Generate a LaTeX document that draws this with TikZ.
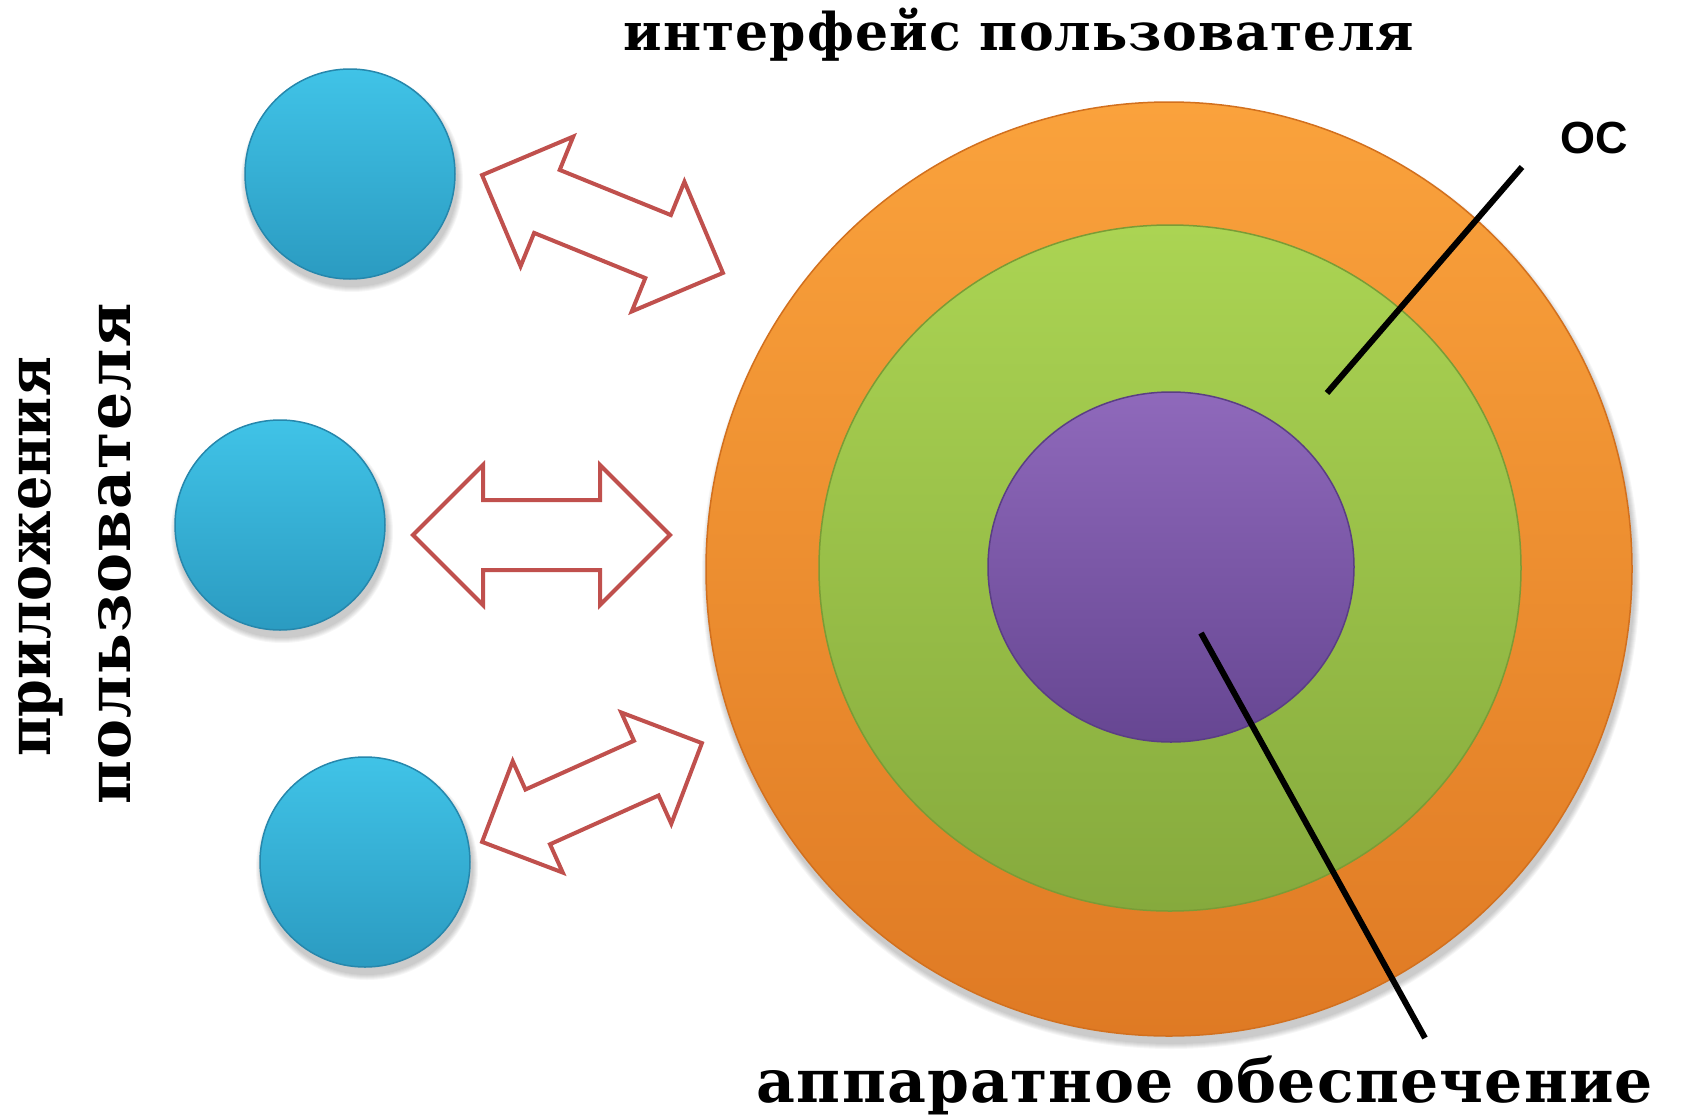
\documentclass[tikz,border=0pt]{standalone}
\usepackage{fontspec}
\setmainfont{DejaVu Serif}
\newfontfamily\toplbl[LetterSpace=2]{DejaVu Serif}
\newfontfamily\biglbl[LetterSpace=2]{DejaVu Serif}
\newfontfamily\narrowlbl[FakeStretch=0.9]{DejaVu Serif}
\newfontfamily\labsans{Liberation Sans}
\usetikzlibrary{shapes.geometric,calc}
\definecolor{orTop}{HTML}{FAA23C}
\definecolor{orBot}{HTML}{DF7A24}
\definecolor{orRim}{HTML}{D2701E}
\definecolor{grTop}{HTML}{ABD453}
\definecolor{grBot}{HTML}{86AA3D}
\definecolor{grRim}{HTML}{7A9C36}
\definecolor{puTop}{HTML}{8F69BB}
\definecolor{puBot}{HTML}{664692}
\definecolor{puRim}{HTML}{5A3E84}
\definecolor{blTop}{HTML}{40C3E7}
\definecolor{blBot}{HTML}{2B9BC1}
\definecolor{blRim}{HTML}{2687AC}
\definecolor{arrRed}{HTML}{C0504D}
\tikzset{
  disk/.style={circle, inner sep=0pt, line width=1.5pt},
  oval/.style={ellipse, inner sep=0pt, line width=1.5pt},
  appdisk/.style={disk, minimum size=210, top color=blTop, bottom color=blBot, draw=blRim},
  arrowshape/.style={draw=arrRed, fill=white, line width=4pt, line join=miter},
  leader/.style={draw=black, line width=6pt},
  lbl/.style={inner sep=0pt, text height=0.62em, text depth=0.2em},
  toptext/.style={lbl, font=\toplbl\bfseries\fontsize{52}{52}\selectfont},
  bigtext/.style={lbl, font=\biglbl\bfseries\fontsize{60}{60}\selectfont},
  narrowtext/.style={lbl, font=\narrowlbl\bfseries\fontsize{60}{60}\selectfont},
  ostext/.style={inner sep=0pt, font=\labsans\bfseries\fontsize{45}{45}\selectfont},
}
\newcommand\softshadow[3]{% center, x radius, y radius
  \foreach \k in {1,...,6}{
    \fill[black, opacity=0.035] ($#1+(2,7)$) ellipse [x radius={#2+\k}, y radius={#3+\k}];
  }}
\newcommand\dblarrow[6]{% name, center, angle, length, head half, shaft half
  \coordinate (#1) at #2;
  \draw[arrowshape, shift={(#1)}, rotate=#3]
    ({-#4/2},0) -- ({-#4/2+#5},{#5}) -- ({-#4/2+#5},{#6}) -- ({#4/2-#5},{#6})
    -- ({#4/2-#5},{#5}) -- ({#4/2},0) -- ({#4/2-#5},{-#5}) -- ({#4/2-#5},{-#6})
    -- ({-#4/2+#5},{-#6}) -- ({-#4/2+#5},{-#5}) -- cycle;}
\begin{document}
\begin{tikzpicture}[x=1pt, y=-1pt]
\useasboundingbox (0,0) rectangle (1682,1117);
\fill[white] (0,0) rectangle (1682,1117);

% shadows
\softshadow{(1169,569)}{463}{467}
\softshadow{(350,174)}{105}{105}
\softshadow{(280,525)}{105}{105}
\softshadow{(365,862)}{105}{105}

% layered system
\node[oval, minimum width=926, minimum height=934, top color=orTop, bottom color=orBot, draw=orRim] (ui) at (1169,569) {};
\node[oval, minimum width=702, minimum height=686, top color=grTop, bottom color=grBot, draw=grRim] (os) at (1170,568) {};
\node[oval, minimum width=366, minimum height=350, top color=puTop, bottom color=puBot, draw=puRim] (hw) at (1171,567) {};

% user applications
\node[appdisk] (app1) at (350,174) {};
\node[appdisk] (app2) at (280,525) {};
\node[appdisk] (app3) at (365,862) {};

% two-way arrows
\dblarrow{arr1}{(602.5,224)}{-22.1}{260}{70}{34}
\dblarrow{arr2}{(541.5,535)}{0}{257}{70}{35}
\dblarrow{arr3}{(592,792.5)}{24.2}{241}{61}{30}

% labels
\node[toptext, anchor=base] (uilabel) at (1019,50) {интерфейс пользователя};
\node[narrowtext, rotate=90, anchor=base] (applabel1) at (50,557) {приложения};
\node[bigtext, rotate=90, anchor=base] (applabel2) at (130,554) {пользователя};
\node[bigtext, anchor=base] (hwlabel) at (1205,1102) {аппаратное обеспечение};
\node[ostext, anchor=base] (oslabel) at (1594,153) {ОС};

% leader lines
\coordinate (osfrom) at (1522,167);
\coordinate (osto) at (1327,393);
\coordinate (hwfrom) at (1201,633);
\coordinate (hwto) at (1425,1038);
\draw[leader] (osfrom) -- (osto);
\draw[leader] (hwfrom) -- (hwto);
\end{tikzpicture}
\end{document}
